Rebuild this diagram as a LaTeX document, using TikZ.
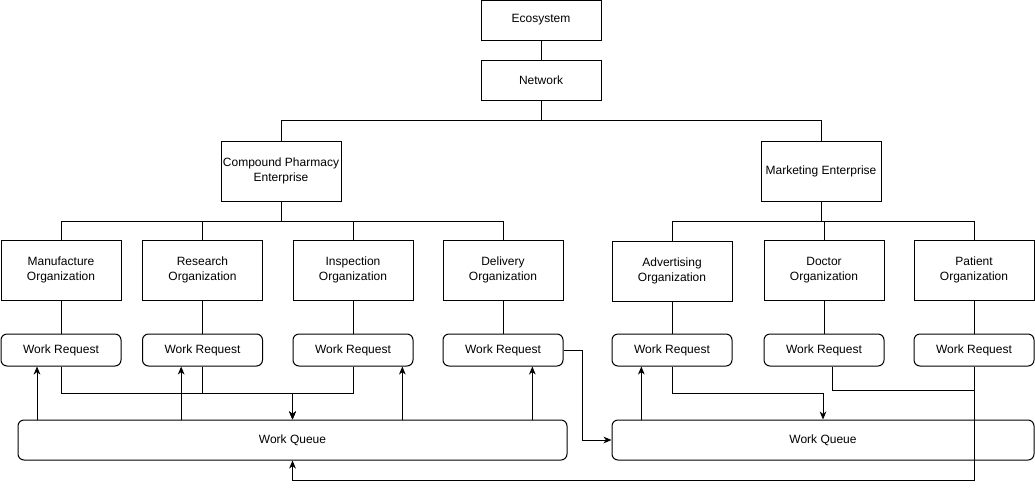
\documentclass[tikz,border=0pt]{standalone}
\usepackage{fontspec}
\setmainfont{Liberation Sans}
\usepackage{tikz}
\usetikzlibrary{arrows.meta,positioning,calc}

\begin{document}
\begin{tikzpicture}[
  x=0.75pt, y=-0.75pt,
  line width=0.75pt,
  box/.style={draw, line width=0.75pt, minimum width=90pt, minimum height=45pt, inner sep=1pt, align=center, font=\fontsize{9}{11}\selectfont},
  topbox/.style={box, minimum height=30pt},
  reqbox/.style={box, rounded corners=4.5pt, minimum height=24pt},
  queuebox/.style={box, rounded corners=4.5pt, minimum height=30pt},
  arr/.style={-{Stealth[length=6pt, width=5pt, inset=1.8pt]}},
]
  \useasboundingbox (0,0) rectangle (1035,490);

  % top of the tree
  \node[topbox] (eco) at (541,20) {Ecosystem};
  \node[topbox] (net) at (541,80) {Network};
  \node[box] (cpe) at (281,171) {Compound Pharmacy\\ Enterprise};
  \node[box] (mke) at (821,171) {Marketing Enterprise};

  % organizations
  \node[box] (manu) at (61,270) {Manufacture\\ Organization};
  \node[box] (res) at (202.5,270) {Research\\ Organization};
  \node[box] (insp) at (353,270) {Inspection\\ Organization};
  \node[box] (deli) at (503,270) {Delivery\\ Organization};
  \node[box] (adv) at (672,271) {Advertising\\ Organization};
  \node[box] (doc) at (824,270) {Doctor\\ Organization};
  \node[box] (pat) at (974,270) {Patient\\ Organization};

  % work requests
  \foreach \o/\w in {manu/wr1, res/wr2, insp/wr3, deli/wr4, adv/wr5, doc/wr6, pat/wr7}
    \node[reqbox] (\w) at (\o |- 0,350) {Work Request};

  % queues
  \node[queuebox, minimum width=411.75pt] (wq1) at (292.5,440) {Work Queue};
  \node[queuebox, minimum width=316.5pt] (wq2) at (823,440) {Work Queue};

  % tree edges
  \draw (eco) -- (net);
  \draw (net.south) -- ++(0,20) -| (cpe.north);
  \draw (net.south) -- ++(0,20) -| (mke.north);
  \foreach \o in {manu,res,insp,deli}
    \draw (cpe.south) -- ++(0,20) -| (\o.north);
  \foreach \o in {adv,doc,pat}
    \draw (mke.south) -- ++(0,20) -| (\o.north);
  \foreach \o/\w in {manu/wr1, res/wr2, insp/wr3, deli/wr4, adv/wr5, doc/wr6, pat/wr7}
    \draw (\o.south -| \w.north) -- (\w.north);

  % requests into the queues
  \foreach \w in {wr1,wr2,wr3}
    \draw[arr] (\w.south) -- ++(0,27) -| (wq1.north);
  \draw[arr] (wr4.east) -- ++(19,0) |- (wq2.west);
  \draw[arr] (wr5.south) -- ++(0,27) -| (wq2.north);
  \draw ([xshift=6pt]wr6.south) -- ++(0,24) coordinate (dj) -- (dj -| wr7.south);
  \draw[arr] (wr7.south) -- ++(0,114) -| (wq1.south);

  % queues back to requests
  \draw[arr] ([xshift=-18pt]wr1.south |- wq1.north) -- ([xshift=-18pt]wr1.south);
  \draw[arr] ([xshift=-16pt]wr2.south |- wq1.north) -- ([xshift=-16pt]wr2.south);
  \draw[arr] ([xshift=37pt]wr3.south |- wq1.north) -- ([xshift=37pt]wr3.south);
  \draw[arr] ([xshift=22pt]wr4.south |- wq1.north) -- ([xshift=22pt]wr4.south);
  \draw[arr] ([xshift=-23pt]wr5.south |- wq2.north) -- ([xshift=-23pt]wr5.south);
\end{tikzpicture}
\end{document}
